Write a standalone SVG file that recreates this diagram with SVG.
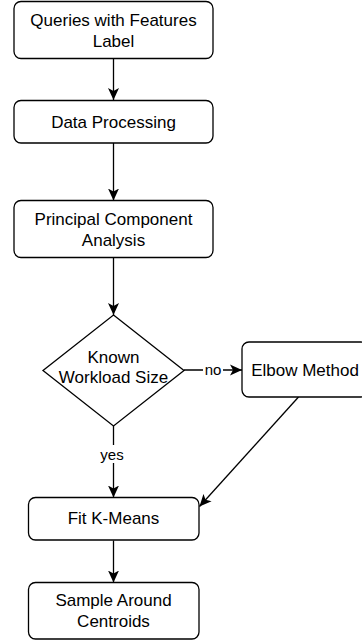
<svg xmlns="http://www.w3.org/2000/svg" width="362" height="640" viewBox="0 0 362 640">
<style>
.box{fill:#fff;stroke:#000;stroke-width:1.3}
.t{font-family:"Liberation Sans",Arial,Helvetica,sans-serif;font-size:17px;fill:#000;text-anchor:middle}
.lbl{font-family:"Liberation Sans",Arial,Helvetica,sans-serif;font-size:15px;fill:#000;text-anchor:middle}
.edge{fill:none;stroke:#000;stroke-width:1.3}
</style>
<defs>
<marker id="arr" markerUnits="userSpaceOnUse" markerWidth="13" markerHeight="12" viewBox="0 0 13 12" refX="12" refY="6" orient="auto">
<path d="M0,0.5 L12,6 L0,11.5 L3,6 z" fill="#000"/>
</marker>
</defs>
<rect width="362" height="640" fill="#fff"/>
<g id="connectors">
<path class="edge" d="M113.5,58.5 L113.5,100" marker-end="url(#arr)"/>
<path class="edge" d="M113.5,143 L113.5,200.5" marker-end="url(#arr)"/>
<path class="edge" d="M113.5,257.5 L113.5,315" marker-end="url(#arr)"/>
<path class="edge" d="M184,370 L242,370" marker-end="url(#arr)"/>
<rect x="203" y="361" width="20" height="17" fill="#fff"/>
<text class="lbl" x="213" y="374.5">no</text>
<path class="edge" d="M113.5,426 L113.5,497.5" marker-end="url(#arr)"/>
<rect x="99" y="445" width="29" height="18" fill="#fff"/>
<text class="lbl" x="112" y="459.5">yes</text>
<path class="edge" d="M298.5,397 L199.5,506.5" marker-end="url(#arr)"/>
<path class="edge" d="M113.5,540.5 L113.5,582.5" marker-end="url(#arr)"/>
</g>
<g id="queries">
<rect class="box" x="14" y="1.5" width="199" height="57" rx="7"/>
<text class="t" x="113.5" y="26">Queries with Features</text>
<text class="t" x="113.5" y="46.5">Label</text>
</g>
<g id="processing">
<rect class="box" x="14" y="100.5" width="199" height="42.5" rx="7"/>
<text class="t" x="113.5" y="128">Data Processing</text>
</g>
<g id="pca">
<rect class="box" x="14" y="200.5" width="199" height="57" rx="7"/>
<text class="t" x="113.5" y="225">Principal Component</text>
<text class="t" x="113.5" y="245.5">Analysis</text>
</g>
<g id="decision">
<path class="box" d="M113.5,315 L184,370.5 L113.5,426 L43,370.5 Z"/>
<text class="t" x="113.5" y="362.5">Known</text>
<text class="t" x="113.5" y="383">Workload Size</text>
</g>
<g id="elbow">
<rect class="box" x="242" y="342" width="126" height="55" rx="7"/>
<text class="t" x="305" y="375.5">Elbow Method</text>
</g>
<g id="kmeans">
<rect class="box" x="28.5" y="497.5" width="170.5" height="42.5" rx="7"/>
<text class="t" x="113.5" y="524">Fit K-Means</text>
</g>
<g id="sample">
<rect class="box" x="28.5" y="582.5" width="170.5" height="56.5" rx="7"/>
<text class="t" x="113.5" y="606">Sample Around</text>
<text class="t" x="113.5" y="626.5">Centroids</text>
</g>
</svg>
